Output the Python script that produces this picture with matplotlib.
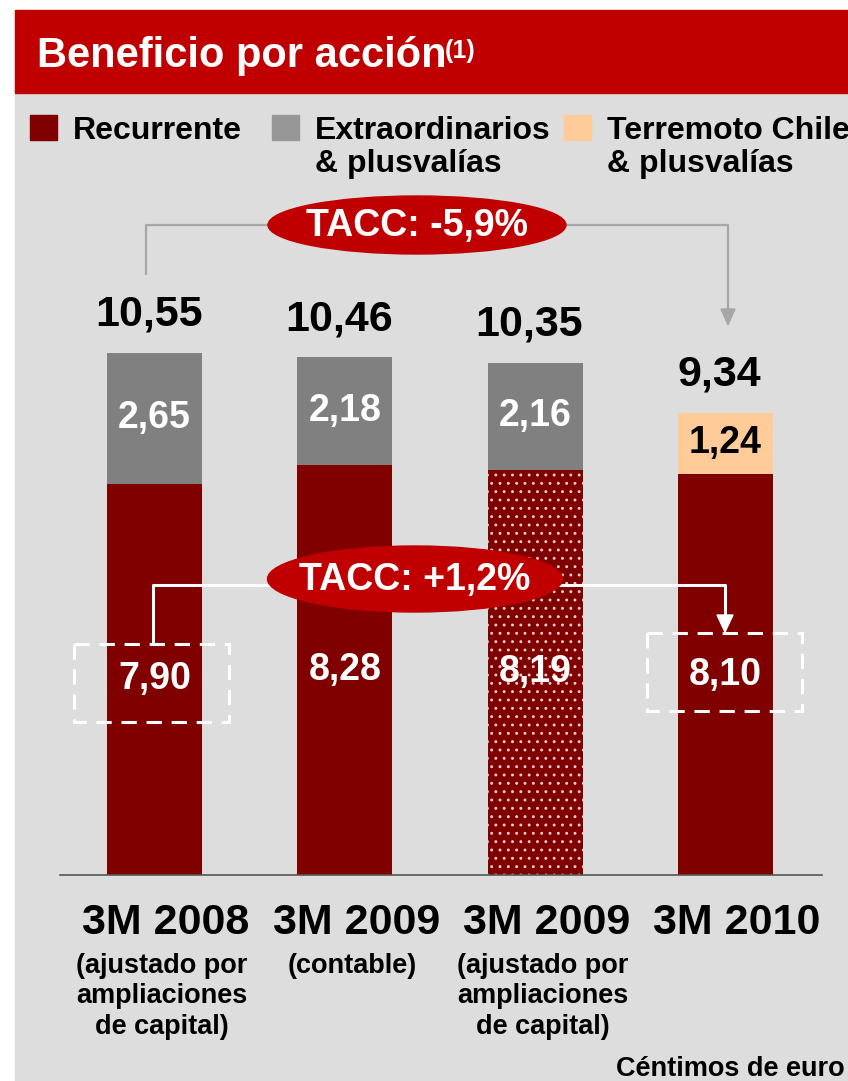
import numpy as np
import matplotlib.pyplot as plt
import matplotlib.transforms as mtransforms
from matplotlib.patches import Rectangle, Ellipse, Polygon

plt.rcParams['font.family'] = ['Liberation Sans', 'DejaVu Sans']
plt.rcParams['font.weight'] = 'bold'
plt.rcParams['hatch.linewidth'] = 0.9

# data (centimos de euro por accion)
categories = ['3M 2008', '3M 2009', '3M 2009', '3M 2010']
sublabels = ['(ajustado por\nampliaciones\nde capital)', '(contable)',
             '(ajustado por\nampliaciones\nde capital)', '']
recurrente = [7.90, 8.28, 8.19, 8.10]
extraordinarios = [2.65, 2.18, 2.16, 0.0]
terremoto = [0.0, 0.0, 0.0, 1.24]
totals = [10.55, 10.46, 10.35, 9.34]
legend_labels = ['Recurrente', 'Extraordinarios\n& plusvalías', 'Terremoto Chile\n& plusvalías']
tacc_total = 'TACC: -5,9%'
tacc_rec = 'TACC: +1,2%'

RED = '#800000'
GREY = '#808080'
PEACH = '#FFCC99'
TITLE_RED = '#C00000'
PANEL = '#DDDDDD'

W, H = 848, 1081
fig = plt.figure(figsize=(W / 100, H / 100), dpi=100)
fig.patch.set_facecolor('white')
ax = fig.add_axes([0, 0, 1, 1])
ax.axis('off')

# map data coords so bars land where they should
x0, dx, y0, dy = 154.5, 190.3, 875, 49.5
ax.set_xlim(-x0 / dx, (W - x0) / dx)
ax.set_ylim((y0 - H) / dy, y0 / dy)

# pixel coordinates, y going down
pix = mtransforms.Affine2D().scale(1 / W, -1 / H).translate(0, 1) + fig.transFigure
xpix = mtransforms.blended_transform_factory(ax.transData, pix)

def fmt(v):
    return f'{v:.2f}'.replace('.', ',')

# background panels
ax.add_patch(Rectangle((15, 93), W - 15, H - 93, transform=pix, color=PANEL, zorder=0, clip_on=False))
ax.add_patch(Rectangle((15, 10), W - 15, 83, transform=pix, color=TITLE_RED, zorder=0, clip_on=False))
title = ax.text(37, 67, 'Beneficio por acción', transform=pix, color='white', fontsize=30,
                va='baseline', ha='left', zorder=5)
ax.annotate('(1)', xy=(1, 1), xycoords=title, xytext=(-1, -2), textcoords='offset points',
            color='white', fontsize=18, va='top', ha='left', zorder=5)

# legend
leg_x = [30, 272, 564]
leg_cols = [RED, '#969696', PEACH]
for lx, c, lab in zip(leg_x, leg_cols, legend_labels):
    ax.add_patch(Rectangle((lx, 115), 27, 25, transform=pix, color=c, zorder=3, clip_on=False))
    for k, line in enumerate(lab.split('\n')):
        ax.text(lx + 43, 139 + 33 * k, line, transform=pix, fontsize=23, va='baseline',
                ha='left', zorder=5, clip_on=False)

# bars
x = np.arange(len(categories))
bw = 95 / dx
rec_bars = ax.bar(x, recurrente, width=bw, color=RED, zorder=2)
rec_bars[2].set_hatch('..')
rec_bars[2].set_edgecolor('#F0D0D0')
rec_bars[2].set_linewidth(0)
ax.bar(x, extraordinarios, bottom=recurrente, width=bw, color=GREY, zorder=2)
ax.bar(x, terremoto, bottom=recurrente, width=bw, color=PEACH, zorder=2)

ax.plot([60, 822], [875, 875], transform=pix, color='#555555', lw=1.2, zorder=3, clip_on=False)

for i in x:
    ax.text(i, recurrente[i] / 2, fmt(recurrente[i]), color='white', fontsize=27,
            ha='center', va='center', zorder=6)
    if extraordinarios[i] > 0:
        ax.text(i, recurrente[i] + extraordinarios[i] / 2, fmt(extraordinarios[i]),
                color='white', fontsize=27, ha='center', va='center', zorder=6)
    if terremoto[i] > 0:
        ax.text(i, recurrente[i] + terremoto[i] / 2, fmt(terremoto[i]),
                color='black', fontsize=27, ha='center', va='center', zorder=6)
    ax.text(i - 0.03, totals[i] + 27 / dy, fmt(totals[i]), color='black', fontsize=31,
            ha='center', va='baseline', zorder=6)
    ax.text(i + 0.06, 923, categories[i], transform=xpix, fontsize=31,
            ha='center', va='center', zorder=6)
    if sublabels[i]:
        ax.text(i + 0.04, 953, sublabels[i], transform=xpix, fontsize=19.5, ha='center',
                va='top', linespacing=1.22, zorder=6)

ax.text(845, 1069, 'Céntimos de euro', transform=pix, fontsize=19.5, ha='right',
        va='center', zorder=6)

# TACC total
gc = '#A6A6A6'
ax.plot([146, 146, 300], [274, 225, 225], transform=pix, color=gc, lw=1.6, zorder=3, clip_on=False)
ax.plot([540, 728, 728], [225, 225, 311], transform=pix, color=gc, lw=1.6, zorder=3, clip_on=False)
ax.add_patch(Polygon([[721, 309], [735, 309], [728, 325]], transform=pix, color=gc, zorder=3, clip_on=False))
ax.add_patch(Ellipse((417, 225), 298, 58, transform=pix, color=TITLE_RED, zorder=4, clip_on=False))
ax.text(417, 226, tacc_total, transform=pix, color='white', fontsize=27, ha='center',
        va='center', zorder=6)

# TACC recurrente
ax.plot([153, 153, 300], [643, 585, 585], transform=pix, color='white', lw=2.2, zorder=3, clip_on=False)
ax.plot([540, 725, 725], [585, 585, 618], transform=pix, color='white', lw=2.2, zorder=3, clip_on=False)
ax.add_patch(Polygon([[717, 615], [733, 615], [725, 632]], transform=pix, color='white', zorder=3, clip_on=False))
ax.add_patch(Ellipse((415, 579), 295, 66, transform=pix, color=TITLE_RED, zorder=4, clip_on=False))
ax.text(415, 580, tacc_rec, transform=pix, color='white', fontsize=27, ha='center',
        va='center', zorder=6)

for bx, by in [(74, 644), (647, 633)]:
    ax.add_patch(Rectangle((bx, by), 155, 78, transform=pix, fill=False, edgecolor='white',
                           lw=2.2, linestyle=(0, (5, 3.2)), zorder=5, clip_on=False))

fig.savefig('out.png', dpi=100)
